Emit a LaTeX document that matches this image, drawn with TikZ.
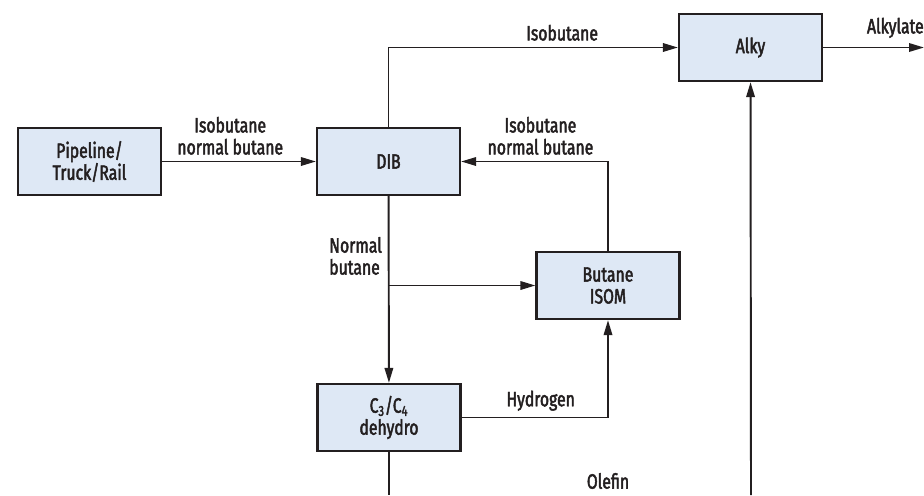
\documentclass[tikz,border=0pt]{standalone}
\usepackage{fontspec}
\setmainfont[FakeStretch=0.76, FakeBold=2.2]{Fira Sans}
\usepackage{tikz}
\usetikzlibrary{arrows.meta, positioning, calc}
\definecolor{boxfill}{HTML}{DEE8F5}
\definecolor{ink}{HTML}{231F20}

\begin{document}
\begin{tikzpicture}[x=0.02cm, y=-0.02cm, >={Triangle[length=8.5pt,width=4.8pt]},
  box/.style={draw=ink, line width=1.3pt, fill=boxfill, minimum width=2.86cm, minimum height=1.34cm, align=center, font=\fontsize{11.8}{12.5}\selectfont, text=ink},
  flow/.style={draw=ink, line width=1.1pt, ->},
  lbl/.style={font=\fontsize{11.8}{12.5}\selectfont, text=ink, align=center}]
  \useasboundingbox (0,0) rectangle (924,495);
  % units
  \node[box] (pipe) at (89.5,161.5) {Pipeline/\\Truck/Rail};
  \node[box] (dib) at (388.5,161.5) {DIB};
  \node[box] (alky) at (750.5,47.5) {Alky};
  \node[box] (isom) at (608,285.5) {Butane\\ISOM};
  \node[box] (dehydro) at (389,417.5) {C\textsubscript{3}/C\textsubscript{4}\\dehydro};
  \coordinate (br) at (389,285.5);
  \coordinate (out) at (924,47.5);
  \coordinate (dbot) at (389,495);
  \coordinate (obot) at (751,495);
  % streams
  \draw[flow] (pipe) -- node[lbl, above, xshift=-5pt]{Isobutane\\normal butane} (dib);
  \draw[flow] (dib.north) |- node[lbl, pos=0.8, above]{Isobutane} (alky);
  \draw[flow] (alky) -- (out);
  \node[lbl, anchor=south east, inner xsep=0pt] (alkylate) at (924,44) {Alkylate};
  \draw[flow] (isom.north) |- node[lbl, pos=0.73, above]{Isobutane\\normal butane} (dib);
  \draw[flow] (dib) -- node[lbl, pos=0.32, left, align=left]{Normal\\butane} (dehydro);
  \draw[flow] (br) -- (isom);
  \draw[flow] (dehydro) -| node[lbl, pos=0.27, above]{Hydrogen} (isom);
  \draw[draw=ink, line width=1.1pt] (dehydro) -- (dbot);
  \draw[flow] (obot) -- (alky);
  \node[lbl] (olefin) at (608,481) {Olefin};
\end{tikzpicture}
\end{document}
